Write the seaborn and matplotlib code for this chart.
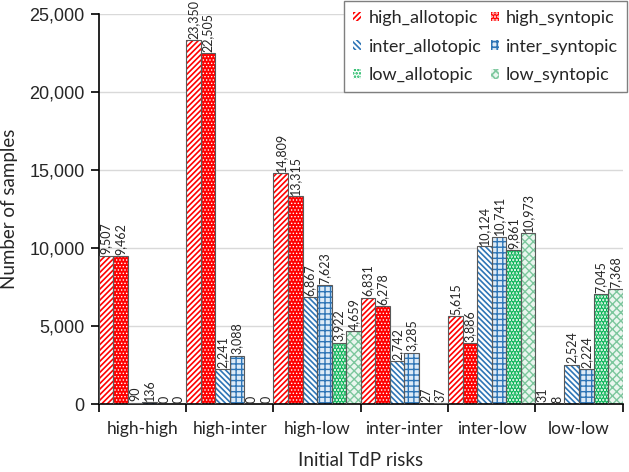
import pandas as pd
import matplotlib.pyplot as plt
import matplotlib.patches as mpatches
from matplotlib.ticker import FuncFormatter, FixedLocator
import seaborn as sns

# Data
groups = ['high-high', 'high-inter', 'high-low', 'inter-inter', 'inter-low', 'low-low']
series = ['high_allotopic', 'high_syntopic', 'inter_allotopic',
          'inter_syntopic', 'low_allotopic', 'low_syntopic']

high_allotopic = [9507, 23350, 14809, 6831, 5615, 31]
high_syntopic = [9462, 22505, 13315, 6278, 3886, 8]
inter_allotopic = [90, 2241, 6867, 2742, 10124, 2524]
inter_syntopic = [136, 3088, 7623, 3285, 10741, 2224]
low_allotopic = [0, 0, 3922, 27, 9861, 7045]
low_syntopic = [0, 0, 4659, 37, 10973, 7368]

values = [high_allotopic, high_syntopic, inter_allotopic,
          inter_syntopic, low_allotopic, low_syntopic]

rows = []
for name, vals in zip(series, values):
    for g, v in zip(groups, vals):
        rows.append({'risk': g, 'type': name, 'count': v})
df = pd.DataFrame(rows)

# face colour, hatch, hatch colour, hatch linewidth
red, blue, green = '#FF0000', '#2E75B6', '#00B050'
styles = {
    'high_allotopic': ('white', '//////', red, 1.2),
    'high_syntopic': (red, '.....', 'white', 0.6),
    'inter_allotopic': ('white', '\\\\\\\\\\\\', blue, 1.2),
    'inter_syntopic': ('#DDEBF7', '+++', blue, 1.0),
    'low_allotopic': ('white', '.....', green, 2.2),
    'low_syntopic': ('#EAF6EF', 'xxxx', '#7CC79D', 1.0),
}

sns.set_style('white')
plt.rcParams['font.family'] = ['Lato', 'DejaVu Sans']
plt.rcParams['hatch.linewidth'] = 1.2

fig = plt.figure(figsize=(6.29, 4.72), dpi=100)
ax = fig.add_axes([0.157, 0.144, 0.833, 0.826])

sns.barplot(data=df, x='risk', y='count', hue='type', order=groups,
            hue_order=series, width=1.0, gap=0, legend=False, ax=ax)


def style_patch(p, name):
    face, hatch, hcol, hlw = styles[name]
    p.set_facecolor(face)
    p.set_edgecolor(hcol)
    p.set_hatch(hatch)
    p.set_linewidth(0)
    if hasattr(p, 'set_hatch_linewidth'):
        p.set_hatch_linewidth(hlw)


for name, cont in zip(series, ax.containers):
    for p in cont.patches:
        style_patch(p, name)
        ax.add_patch(mpatches.Rectangle(p.get_xy(), p.get_width(), p.get_height(),
                                        fill=False, edgecolor='#595959', lw=0.8, zorder=3))
    ax.bar_label(cont, labels=[f'{v:,.0f}' for v in cont.datavalues],
                 rotation=90, padding=1, fontsize=9, color='#262626')

ax.set_ylim(0, 25000)
ax.set_xlim(-0.5, 5.5)
ax.yaxis.set_major_formatter(FuncFormatter(lambda v, _: f'{v:,.0f}'))
ax.set_yticks(range(0, 25001, 5000))
ax.grid(axis='y', color='#D9D9D9', lw=1)
ax.set_axisbelow(True)
for lab in ax.get_yticklabels():
    lab.set_fontfamily('Liberation Sans')
    lab.set_fontsize(13)
ax.tick_params(axis='y', left=True, length=6, width=1.2, color='black', pad=4)
ax.tick_params(axis='x', which='major', length=0, labelsize=12.5, pad=12)
ax.xaxis.set_minor_locator(FixedLocator([i - 0.5 for i in range(7)]))
ax.tick_params(axis='x', which='minor', bottom=True, length=6, width=1.2, color='black')

for s in ['top', 'right']:
    ax.spines[s].set_visible(False)
for s in ['left', 'bottom']:
    ax.spines[s].set_color('black')
    ax.spines[s].set_linewidth(1.2)

ax.set_xlabel('Initial TdP risks', fontsize=13.5, labelpad=11)
ax.set_ylabel('Number of samples', fontsize=13.5, labelpad=8)

order = [0, 2, 4, 1, 3, 5]
handles = []
for i in order:
    h = mpatches.Patch(label=series[i])
    style_patch(h, series[i])
    handles.append(h)
leg = ax.legend(handles=handles, ncol=2, loc='upper right',
                bbox_to_anchor=(627 / 629, 1 - 1 / 472), bbox_transform=fig.transFigure,
                borderaxespad=0, fontsize=13, frameon=True, fancybox=False,
                framealpha=1, edgecolor='#7F7F7F', handlelength=0.45, handleheight=0.45,
                handletextpad=0.4, columnspacing=0.5, labelspacing=0.7, borderpad=0.5)
leg.get_frame().set_linewidth(1)

fig.savefig('out.png', dpi=100)
